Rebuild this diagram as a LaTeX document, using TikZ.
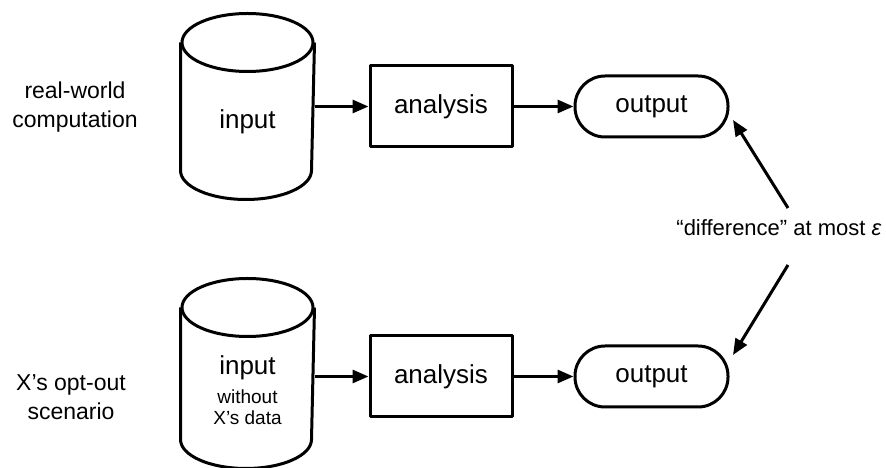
\documentclass[tikz,border=0pt]{standalone}
\usepackage{fontspec}
\setmainfont{Liberation Sans}
\usetikzlibrary{arrows.meta}
\newcommand\fbig{\fontsize{26}{31}\selectfont}
\newcommand\fsmall{\fontsize{19}{21}\selectfont}
\newcommand\fside{\fontsize{23}{29}\selectfont}
\newcommand\fmid{\fontsize{22}{26}\selectfont}
\begin{document}
\begin{tikzpicture}[x=1pt,y=1pt, line width=3pt, line join=round,
  arr/.style={-{Triangle[length=16pt,width=13pt]}, line width=3pt},
  body/.style={minimum width=131pt, inner sep=0pt},
  boxa/.style={draw, minimum width=142pt, minimum height=81pt, inner sep=0pt, font=\fbig},
  outb/.style={draw, rounded corners=30pt, minimum width=153pt, minimum height=61pt, inner sep=0pt, font=\fbig},
  lab/.style={align=center, font=\fside}]
\useasboundingbox (0,0) rectangle (886,468);
% top cylinder
\node[body, minimum height=125pt] (in1) at (247.5,361.5) {};
\draw (in1.north west) -- (in1.south west) arc (180:360:65.5 and 29) -- (in1.north east);
\draw (in1.north) ellipse (65.5 and 29);
\node[font=\fbig] (in1t) at (247.5,346) {input};
% bottom cylinder
\node[body, minimum height=129pt] (in2) at (247.5,94.5) {};
\draw (in2.north west) -- (in2.south west) arc (180:360:65.5 and 29) -- (in2.north east);
\draw (in2.north) ellipse (65.5 and 29);
\node[font=\fbig] (in2t) at (247.5,100) {input};
\node[font=\fsmall] (in2a) at (247.5,71) {without};
\node[font=\fsmall] (in2b) at (247.5,50) {X’s data};
% analysis
\node[boxa] (an1) at (441,361.5) {analysis};
\node[boxa] (an2) at (441,91.5) {analysis};
% outputs
\node[outb] (out1) at (651.5,361.5) {output};
\node[outb] (out2) at (651.5,91.5) {output};
% arrows
\draw[arr] (in1.east |- an1.west) -- (an1.west);
\draw[arr] (an1.east) -- (out1.west);
\draw[arr] (in2.east |- an2.west) -- (an2.west);
\draw[arr] (an2.east) -- (out2.west);
% difference
\node[font=\fmid] (diff) at (779,240) {“difference” at most \textit{ε}};
\coordinate (s1) at (788,260);
\coordinate (t1) at (733,348);
\coordinate (s2) at (788,203);
\coordinate (t2) at (733,113);
\draw[arr] (s1) -- (t1);
\draw[arr] (s2) -- (t2);
% side labels
\node[lab] (l1) at (75,360.5) {real-world\\computation};
\node[lab] (l2) at (71,71) {X’s opt-out\\scenario};
\end{tikzpicture}
\end{document}
